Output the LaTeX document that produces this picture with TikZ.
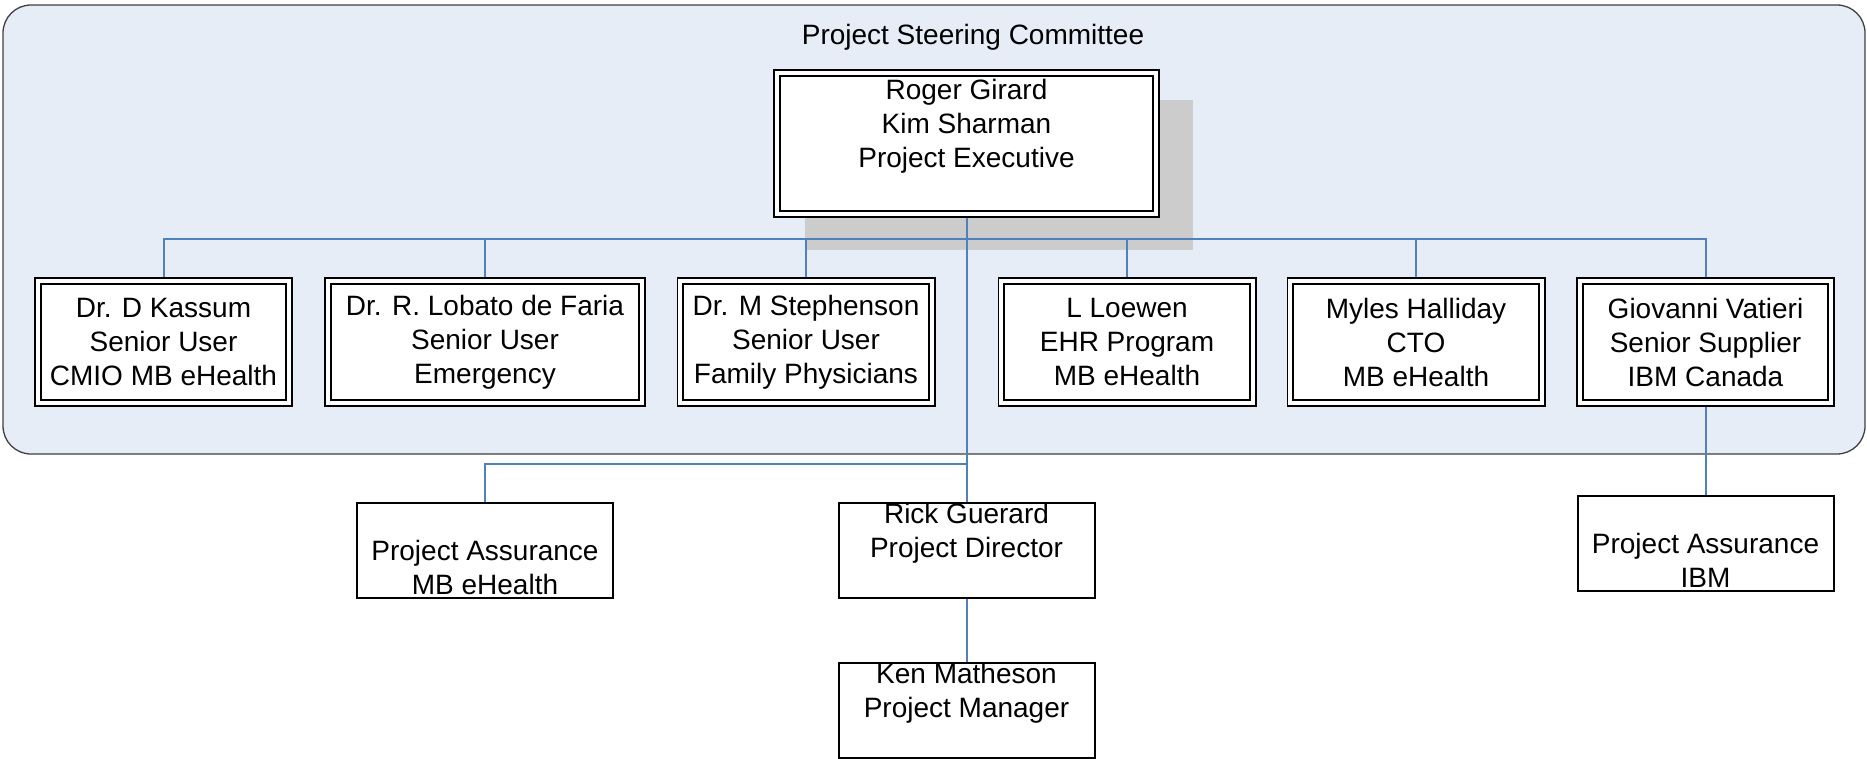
\documentclass[tikz,border=0pt]{standalone}
\usepackage{fontspec}
\setmainfont{Liberation Sans}
\definecolor{paneblue}{RGB}{230,237,247}
\definecolor{linkblue}{RGB}{79,129,189}
\definecolor{shadowgray}{RGB}{204,204,204}
\definecolor{edgegray}{RGB}{64,64,64}
\newcommand{\blankline}{\vphantom{Pj}}

\begin{document}
\begin{tikzpicture}[x=1pt,y=-1pt,link/.style={draw=linkblue,line width=2pt},
        every node/.style={font=\fontsize{28}{34}\selectfont,align=center,inner sep=0pt}]
    \tikzstyle{member}=[draw,double,double distance=4pt,line width=1.8pt,fill=white,outer sep=3.8pt,minimum width=251.4pt,minimum height=122.4pt]
    \tikzstyle{plain}=[draw,line width=2pt,fill=white,minimum width=256pt,minimum height=95pt]

    \useasboundingbox (0,0) rectangle (1867,759);
    \draw[edgegray,fill=paneblue,line width=1.3pt,rounded corners=28pt] (3,5) rectangle (1865,454);
    \node[anchor=base] (title) at (973,45) {Project Steering Committee};

    \fill[shadowgray] (805,100) rectangle (1193,250);
    \node[member,minimum width=379.4pt,minimum height=141.4pt] (exec) at (966.5,143.5) {Roger Girard\\Kim Sharman\\Project Executive\\\blankline};

    \node[member] (kassum) at (163.5,342) {Dr. D Kassum\\Senior User\\CMIO MB eHealth};
    \node[member,minimum width=314.4pt] (lobato) at (485,342) {Dr. R. Lobato de Faria\\Senior User\\Emergency};
    \node[member] (stephenson) at (806,342) {Dr. M Stephenson\\Senior User\\Family Physicians};
    \node[member] (loewen) at (1127,342) {L Loewen\\EHR Program\\MB eHealth};
    \node[member] (halliday) at (1416,342) {Myles Halliday\\CTO\\MB eHealth};
    \node[member] (vatieri) at (1705.5,342) {Giovanni Vatieri\\Senior Supplier\\IBM Canada};

    \node[plain] (assurmb) at (485,550.5) {\blankline\\Project Assurance\\MB eHealth};
    \node[plain] (director) at (966.5,550.5) {Rick Guerard\\Project Director\\\blankline};
    \node[plain] (manager) at (966.5,710) {Ken Matheson\\Project Manager\\\blankline};
    \node[plain] (assuribm) at (1705.5,543) {\blankline\\Project Assurance\\IBM};

    \coordinate (bus) at (0,239);
    \coordinate (split) at (966.5,464);

    \draw[link] (kassum.north) -- (kassum.north |- bus) -- (vatieri.north |- bus) -- (vatieri.north);
    \foreach \n in {lobato,stephenson,loewen,halliday}
        \draw[link] (\n.north |- bus) -- (\n.north);
    \draw[link] (exec.south) -- (director.north);
    \draw[link] (assurmb.north) |- (split);
    \draw[link] (director.south) -- (manager.north);
    \draw[link] (vatieri.south) -- (assuribm.north);

\end{tikzpicture}
\end{document}
